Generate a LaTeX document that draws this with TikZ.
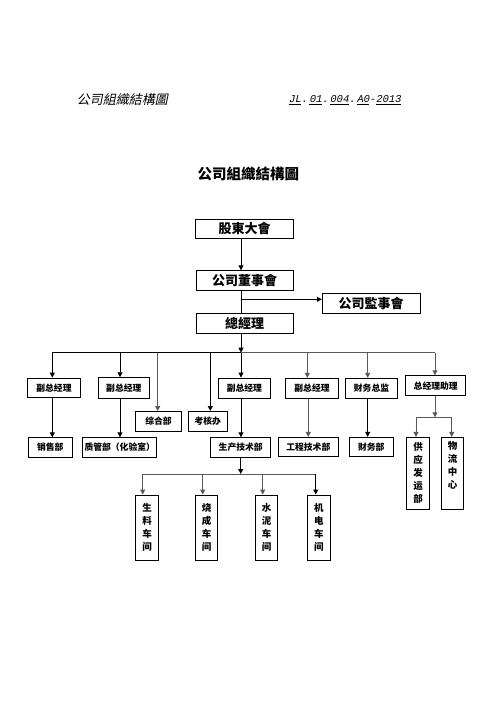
\documentclass[tikz,border=0pt]{standalone}
\usepackage{fontspec}
\usetikzlibrary{arrows.meta}
\newfontfamily\cjk{Noto Sans CJK SC}
\newfontfamily\cjkit[FakeSlant=0.2]{Noto Sans CJK SC}
\newfontfamily\monoit[FakeSlant=0.2]{Liberation Mono}
\begin{document}
\begin{tikzpicture}[x=1pt,y=-1pt,
  box/.style={draw=black,line width=0.9pt,inner sep=0pt,align=center},
  bigbox/.style={box,font=\cjk\bfseries\fontsize{13}{15}\selectfont,minimum height=19.5pt},
  smallbox/.style={box,font=\cjk\bfseries\fontsize{8.8}{10}\selectfont,minimum height=19.5pt},
  vbox/.style={box,font=\cjk\bfseries\fontsize{9.5}{13}\selectfont},
  conn/.style={line width=0.9pt,draw=black},
  conng/.style={line width=1pt,draw=black!65},
  arr/.style={conn,-{Triangle[length=5pt,width=5pt]}},
  arrg/.style={conng,-{Triangle[length=5pt,width=5pt]}}]
\useasboundingbox[fill=white] (0,0) rectangle (496,702);

% header
\node[font=\cjkit\fontsize{13}{15}\selectfont] (hdl) at (122.3,100) {公司組織結構圖};
\node[font=\monoit\fontsize{10.5}{12}\selectfont] (hdr) at (344.8,100) {\underline{JL}.\,\underline{01}.\,\underline{004}.\,\underline{A0}-\underline{2013}};
\node[font=\cjk\bfseries\fontsize{14.5}{16}\selectfont] (title) at (248.3,174.3) {公司組織結構圖};

% top boxes
\node[bigbox,minimum width=97.5pt] (sh) at (244.5,228.8) {股東大會};
\node[bigbox,minimum width=97pt] (bd) at (244.5,280.5) {公司董事會};
\node[bigbox,minimum width=97.7pt,minimum height=20pt] (sup) at (371.2,303.3) {公司監事會};
\node[bigbox,minimum width=97pt,minimum height=20pt] (gm) at (244.5,323.3) {總經理};

% second row
\node[smallbox,minimum width=53.4pt] (vp1) at (54,387.8) {副总经理};
\node[smallbox,minimum width=51pt,minimum height=20.6pt] (vp2) at (123.8,388) {副总经理};
\node[smallbox,minimum width=46.4pt] (zh) at (158.5,421.2) {综合部};
\node[smallbox,minimum width=39pt] (kh) at (207.8,421.2) {考核办};
\node[smallbox,minimum width=51.3pt,minimum height=20pt] (vp3) at (244.4,388) {副总经理};
\node[smallbox,minimum width=52.6pt,minimum height=20pt] (vp4) at (312,388.3) {副总经理};
\node[smallbox,minimum width=51.6pt,minimum height=20pt] (cfo) at (371.5,388.3) {财务总监};
\node[smallbox,minimum width=60pt,minimum height=20pt] (asst) at (435.7,385.7) {总经理助理};

% third row
\node[smallbox,minimum width=44pt] (sales) at (50.3,447.5) {销售部};
\node[smallbox,minimum width=74pt] (qc) at (119.7,447.5) {质管部（化验室）};
\node[smallbox,minimum width=60pt] (prod) at (240.7,447.5) {生产技术部};
\node[smallbox,minimum width=60pt,minimum height=18.7pt] (eng) at (308.3,446.7) {工程技术部};
\node[smallbox,minimum width=44.3pt,minimum height=18.7pt] (fin) at (371.2,446.7) {财务部};
\node[vbox,minimum width=22.6pt,minimum height=71.7pt] (supply) at (418,473.2) {供\\应\\发\\运\\部};
\node[vbox,minimum width=21.6pt,minimum height=71.7pt] (logi) at (452.5,473.2) {};
\node[font=\cjk\bfseries\fontsize{9.5}{13}\selectfont,align=center,inner sep=0pt,anchor=north] (logit) at ([yshift=-4.5pt]logi.north) {物\\流\\中\\心};

% workshops
\node[vbox,minimum width=22.6pt,minimum height=65pt] (ws1) at (147,527.5) {生\\料\\车\\间};
\node[vbox,minimum width=21.6pt,minimum height=65pt] (ws2) at (206.5,527.5) {烧\\成\\车\\间};
\node[vbox,minimum width=22pt,minimum height=65pt] (ws3) at (266.7,527.5) {水\\泥\\车\\间};
\node[vbox,minimum width=22.3pt,minimum height=65pt] (ws4) at (318.8,527.5) {机\\电\\车\\间};

% bus coordinates
\coordinate (cx) at (241,0);
\coordinate (j1) at (241,299.3);
\coordinate (bm) at (241,352.7);
\coordinate (b1) at (52.3,352.7);
\coordinate (b2) at (120,352.7);
\coordinate (b3) at (157.7,352.7);
\coordinate (b4) at (210.3,352.7);
\coordinate (b5) at (307.3,352.7);
\coordinate (b6) at (367.7,352.7);
\coordinate (b7) at (435,352.7);
\coordinate (s0) at (435,417.3);
\coordinate (s1) at (416,417.3);
\coordinate (s2) at (451.7,417.3);
\coordinate (w0) at (240.7,474);
\coordinate (w1) at (142.7,474);
\coordinate (w2) at (202.7,474);
\coordinate (w3) at (262.7,474);
\coordinate (w4) at (315.7,474);

% top connectors
\draw[arr] (sh.south -| cx) -- (bd.north -| cx);
\draw[conn] (bd.south -| cx) -- (gm.north -| cx);
\draw[arr] (j1) -- (j1 -| sup.west);
\draw[arr] (gm.south -| cx) -- (bm);

% main bus
\draw[conn] (b1) -- (b4) -- (bm);
\draw[conng] (bm) -- (b7);
\draw[arr] (b1) -- (b1 |- vp1.north);
\draw[arr] (b2) -- (b2 |- vp2.north);
\draw[arrg] (b3) -- (b3 |- zh.north);
\draw[arr] (b4) -- (b4 |- kh.north);
\draw[arr] (bm) -- (bm |- vp3.north);
\draw[arrg] (b5) -- (b5 |- vp4.north);
\draw[arrg] (b6) -- (b6 |- cfo.north);
\draw[arrg] (b7) -- (b7 |- asst.north);

% second level connectors
\draw[arr] (vp1.south -| b1) -- (b1 |- sales.north);
\draw[arr] (vp2.south -| b2) -- (b2 |- qc.north);
\draw[arr] (vp3.south -| bm) -- (bm |- prod.north);
\draw[arrg] (vp4.south -| eng.north) -- (eng.north);
\draw[arr] (cfo.south -| b6) -- (b6 |- fin.north);

% assistant sub-bus
\draw[arrg] (asst.south -| s0) -- (s0);
\draw[conng] (s1) -- (s2);
\draw[arrg] (s1) -- (s1 |- supply.north);
\draw[arrg] (s2) -- (s2 |- logi.north);

% workshop bus
\draw[arr] (prod.south -| w0) -- (w0);
\draw[conng] (w1) -- (w4);
\draw[arrg] (w1) -- (w1 |- ws1.north);
\draw[arrg] (w2) -- (w2 |- ws2.north);
\draw[arrg] (w3) -- (w3 |- ws3.north);
\draw[arr] (w4) -- (w4 |- ws4.north);
\end{tikzpicture}
\end{document}
